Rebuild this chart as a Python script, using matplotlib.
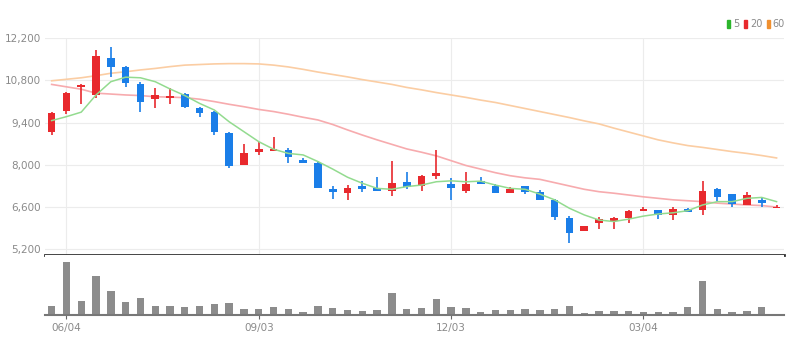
import numpy as np
import matplotlib.pyplot as plt
from matplotlib.patches import Patch

# weekly candles (open / high / low / close)
opens = [9100, 9790, 10570, 10320, 11560, 11260, 10680, 10190, 10210, 10350,
         9900, 9750, 9050, 8000, 8440, 8450, 8490, 8160, 8050, 7190,
         7080, 7300, 7220, 7130, 7440, 7300, 7630, 7360, 7140, 7460,
         7310, 7060, 7300, 7090, 6840, 6230, 5810, 6060, 6150, 6230,
         6460, 6500, 6340, 6530, 6500, 7190, 7020, 6670, 6840, 6560]
highs = [9750, 10430, 10670, 11810, 11900, 11280, 10760, 10540, 10540, 10390,
         9930, 9790, 9080, 8680, 8770, 8910, 8550, 8240, 8130, 7300,
         7320, 7470, 7590, 8130, 7750, 7650, 8490, 7560, 7750, 7590,
         7370, 7280, 7300, 7170, 6870, 6300, 5980, 6260, 6280, 6500,
         6610, 6510, 6610, 6560, 7480, 7220, 7020, 7110, 6920, 6670]
lows = [8990, 9700, 10020, 10210, 10930, 10590, 9770, 9900, 10010, 9890,
        9580, 8990, 7900, 8000, 8330, 8450, 8050, 8050, 7230, 6870,
        6840, 7090, 7130, 6970, 7200, 7140, 7520, 6840, 7080, 7360,
        7080, 7060, 7030, 6840, 6170, 5400, 5810, 5860, 5860, 6060,
        6460, 6200, 6170, 6440, 6340, 6810, 6610, 6670, 6610, 6560]
closes = [9730, 10400, 10650, 11620, 11260, 10710, 10080, 10320, 10280, 9910,
          9730, 9080, 7960, 8400, 8520, 8520, 8250, 8050, 7240, 7110,
          7220, 7210, 7130, 7390, 7280, 7630, 7720, 7240, 7360, 7360,
          7080, 7200, 7110, 6840, 6260, 5730, 5980, 6200, 6250, 6470,
          6550, 6340, 6530, 6440, 7140, 6940, 6700, 7000, 6750, 6610]

# moving averages
ma5 = [9470, 9600, 9750, 10320, 10760, 10910, 10890, 10760, 10520, 10300,
       10040, 9820, 9430, 9100, 8770, 8520, 8380, 8330, 8110, 7860,
       7590, 7390, 7220, 7190, 7280, 7330, 7440, 7470, 7440, 7460,
       7330, 7220, 7190, 7030, 6840, 6560, 6340, 6170, 6120, 6200,
       6300, 6370, 6410, 6480, 6670, 6780, 6780, 6890, 6920, 6780]
ma20 = [10670, 10590, 10510, 10380, 10350, 10320, 10300, 10260, 10250, 10230,
        10180, 10100, 10010, 9930, 9840, 9770, 9680, 9580, 9490, 9340,
        9160, 8990, 8830, 8680, 8530, 8420, 8300, 8140, 7980, 7860,
        7740, 7640, 7570, 7520, 7410, 7300, 7190, 7110, 7060, 7000,
        6940, 6890, 6840, 6810, 6780, 6730, 6700, 6670, 6650, 6600]
ma60 = [10790, 10840, 10890, 10960, 11040, 11090, 11150, 11200, 11260, 11310,
        11330, 11350, 11360, 11360, 11350, 11310, 11250, 11170, 11080, 11000,
        10920, 10830, 10750, 10670, 10570, 10490, 10400, 10320, 10240, 10150,
        10070, 9970, 9870, 9770, 9670, 9570, 9460, 9360, 9220, 9090,
        8960, 8830, 8730, 8640, 8580, 8510, 8440, 8380, 8310, 8230]

volumes = [28, 158, 42, 118, 72, 38, 50, 28, 28, 23,
           28, 32, 37, 18, 18, 23, 17, 8, 28, 22,
           14, 12, 14, 65, 18, 22, 47, 23, 22, 8,
           14, 14, 17, 14, 17, 27, 7, 13, 13, 13,
           8, 8, 8, 23, 103, 17, 9, 13, 23, 2]

tick_pos = [1, 14, 27, 40]
tick_labels = ['06/04', '09/03', '12/03', '03/04']
price_ticks = [5200, 6600, 8000, 9400, 10800, 12200]


def main():
    plt.rcParams['font.family'] = ['Liberation Sans Narrow', 'DejaVu Sans']

    up_color = '#e8292d'
    down_color = '#1a7ee8'

    fig = plt.figure(figsize=(8.02, 3.54), dpi=100)
    ax = fig.add_axes([0.0561, 0.2797, 0.9214, 0.6121])
    axv = fig.add_axes([0.0561, 0.1102, 0.9214, 0.1695], sharex=ax)

    o = np.array(opens)
    c = np.array(closes)
    x = np.arange(len(o))
    colors = [up_color if cc >= oo else down_color for oo, cc in zip(o, c)]

    # wicks and bodies
    ax.vlines(x, lows, highs, colors=colors, linewidth=1.2, zorder=3)
    body_low = np.minimum(o, c)
    body_h = np.maximum(np.abs(c - o), 50)
    ax.bar(x, body_h, bottom=body_low, width=0.52, color=colors, zorder=4)

    # moving averages
    ax.plot(x, ma60, color='#fbcda3', linewidth=1.2, zorder=2)
    ax.plot(x, ma20, color='#f7abae', linewidth=1.2, zorder=2)
    ax.plot(x, ma5, color='#93db8f', linewidth=1.1, zorder=5)

    ax.set_xlim(-0.45, 49.5)
    ax.set_ylim(5010, 12200)
    ax.set_yticks(price_ticks)
    ax.set_yticklabels([f'{v:,}' for v in price_ticks])
    ax.set_xticks(tick_pos)
    ax.grid(color='#ececec', linewidth=0.8)
    ax.set_axisbelow(True)
    ax.tick_params(axis='y', length=0, pad=3, labelsize=7.5, labelcolor='#8a8a8a')
    ax.tick_params(axis='x', length=0, labelbottom=False)
    for side in ['left', 'right', 'top']:
        ax.spines[side].set_visible(False)
    ax.spines['bottom'].set_color('#333333')
    ax.spines['bottom'].set_linewidth(2)

    # volume panel
    axv.bar(x, volumes, width=0.5, color='#8c8c8c')
    axv.set_ylim(0, 180)
    axv.set_yticks([])
    axv.set_xticks(tick_pos)
    axv.set_xticklabels(tick_labels)
    axv.tick_params(axis='x', length=3, color='#666666', labelsize=7.5,
                    labelcolor='#8a8a8a', pad=3)
    for side in ['left', 'right', 'top']:
        axv.spines[side].set_visible(False)
    axv.spines['bottom'].set_color('#777777')
    axv.spines['bottom'].set_linewidth(1.5)

    # legend
    handles = [Patch(color='#2cb52c', label='5'),
               Patch(color=up_color, label='20'),
               Patch(color='#f0902f', label='60')]
    fig.legend(handles=handles, loc='center right', bbox_to_anchor=(0.985, 0.932),
               ncol=3, frameon=False, fontsize=7, handlelength=0.35,
               handleheight=0.9, handletextpad=0.25, columnspacing=0.5,
               labelcolor='#8a8a8a', borderpad=0)

    fig.savefig('out.png', dpi=100)


if __name__ == '__main__':
    main()
